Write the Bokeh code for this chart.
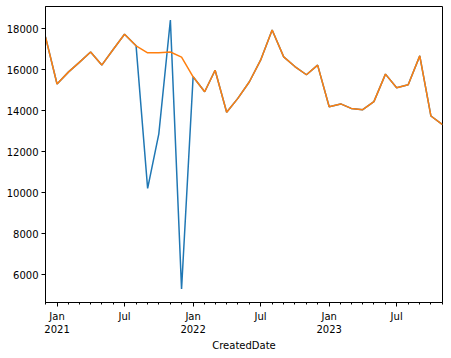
import pandas as pd
from bokeh.plotting import figure
from bokeh.models import Range1d, FixedTicker, CustomJSTickFormatter, ColumnDataSource
from bokeh.embed import file_html
from bokeh.resources import INLINE

months = pd.date_range("2020-12-01", "2023-11-01", freq="MS")

cleaned = [17590, 15300, 15890, 16340, 16860, 16220, 16990, 17720, 17160, 16820,
           16820, 16860, 16610, 15650, 14920, 15970, 13920, 14600, 15410, 16460,
           17930, 16620, 16150, 15750, 16220, 14190, 14330, 14110, 14050, 14440,
           15780, 15120, 15260, 16670, 13740, 13320]

raw = [17590, 15300, 15890, 16340, 16860, 16220, 16990, 17720, 17160, 10210,
       12870, 18420, 5310, 15650, 14920, 15970, 13920, 14600, 15410, 16460,
       17930, 16620, 16150, 15750, 16220, 14190, 14330, 14110, 14050, 14440,
       15780, 15120, 15260, 16670, 13740, 13320]

y_ticks = [6000, 8000, 10000, 12000, 14000, 16000, 18000]

src = ColumnDataSource(dict(date=months, raw=raw, cleaned=cleaned))

lo = min(raw + cleaned)
hi = max(raw + cleaned)
pad = (hi - lo) * 0.05

p = figure(width=451, height=358, x_axis_type="datetime", output_backend="svg",
           toolbar_location=None, min_border_left=45, min_border_right=9,
           min_border_top=6, min_border_bottom=56)
p.x_range = Range1d(months[0], months[-1])
p.y_range = Range1d(lo - pad, hi + pad)

p.line("date", "raw", source=src, line_color="#1f77b4", line_width=1.5)
p.line("date", "cleaned", source=src, line_color="#ff7f0e", line_width=1.5)

p.xgrid.visible = False
p.ygrid.visible = False
p.outline_line_color = "black"
p.outline_line_width = 1
p.outline_line_alpha = 1

major = [d.value // 10**6 for d in months if d.month in (1, 7)]
minor = [d.value // 10**6 for d in months]
p.xaxis.ticker = FixedTicker(ticks=major, minor_ticks=minor)
p.xaxis.formatter = CustomJSTickFormatter(code="""
const d = new Date(tick);
const names = ["Jan","Feb","Mar","Apr","May","Jun","Jul","Aug","Sep","Oct","Nov","Dec"];
const m = d.getUTCMonth();
return m == 0 ? names[m] + "\\n" + d.getUTCFullYear() : names[m];
""")
p.yaxis.ticker = FixedTicker(ticks=y_ticks)
p.xaxis.axis_label = "CreatedDate"

for ax in (p.xaxis[0], p.yaxis[0]):
    ax.major_label_text_font = "DejaVu Sans"
    ax.major_label_text_font_size = "10px"
    ax.major_label_text_color = "black"
    ax.axis_label_text_font = "DejaVu Sans"
    ax.axis_label_text_font_size = "10px"
    ax.axis_label_text_font_style = "normal"
    ax.axis_label_text_color = "black"
    ax.major_tick_in = 0
    ax.major_tick_out = 4
    ax.minor_tick_in = 0
    ax.minor_tick_out = 2
    ax.major_tick_line_color = "black"
    ax.minor_tick_line_color = "black"
    ax.axis_line_color = "black"
    ax.major_label_standoff = 3
    ax.axis_label_standoff = 2

p.xaxis.major_label_standoff = 4
p.yaxis.minor_tick_line_color = None

open("out.html", "w").write(file_html(p, INLINE))
